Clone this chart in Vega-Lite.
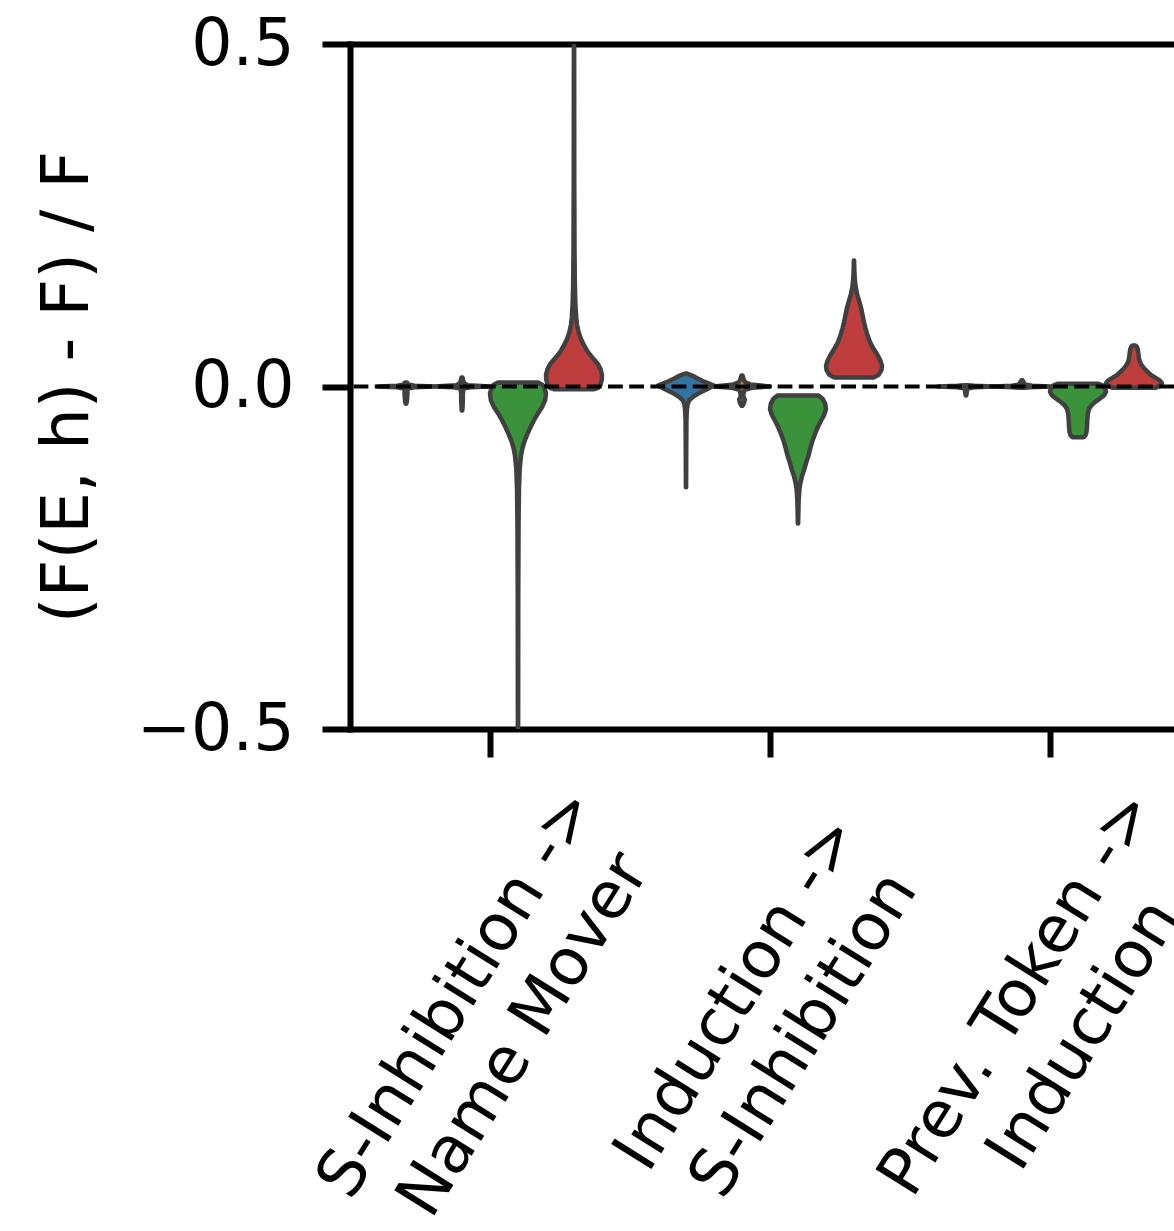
{
  "$schema": "https://vega.github.io/schema/vega-lite/v6.json",
  "width": 824,
  "height": 685,
  "autosize": {"type": "none"},
  "padding": {"left": 350, "top": 44, "right": 0, "bottom": 502},
  "background": "white",
  "config": {
    "view": {"stroke": null},
    "font": "DejaVu Sans",
    "axis": {"labelFont": "DejaVu Sans", "titleFont": "DejaVu Sans", "grid": false}
  },
  "data": {"values": [
    {"cat":"S-Inhibition -> Name Mover","hue":"H1","v":0.006,"d":0.03},
    {"cat":"S-Inhibition -> Name Mover","hue":"H1","v":0.003,"d":0.08},
    {"cat":"S-Inhibition -> Name Mover","hue":"H1","v":0.001,"d":0.3},
    {"cat":"S-Inhibition -> Name Mover","hue":"H1","v":0.0,"d":1.0},
    {"cat":"S-Inhibition -> Name Mover","hue":"H1","v":-0.001,"d":0.3},
    {"cat":"S-Inhibition -> Name Mover","hue":"H1","v":-0.003,"d":0.08},
    {"cat":"S-Inhibition -> Name Mover","hue":"H1","v":-0.006,"d":0.05},
    {"cat":"S-Inhibition -> Name Mover","hue":"H1","v":-0.012,"d":0.05},
    {"cat":"S-Inhibition -> Name Mover","hue":"H1","v":-0.018,"d":0.04},
    {"cat":"S-Inhibition -> Name Mover","hue":"H1","v":-0.022,"d":0.03},
    {"cat":"S-Inhibition -> Name Mover","hue":"H1","v":-0.025,"d":0.01},

    {"cat":"S-Inhibition -> Name Mover","hue":"H2","v":0.013,"d":0.02},
    {"cat":"S-Inhibition -> Name Mover","hue":"H2","v":0.009,"d":0.04},
    {"cat":"S-Inhibition -> Name Mover","hue":"H2","v":0.005,"d":0.08},
    {"cat":"S-Inhibition -> Name Mover","hue":"H2","v":0.002,"d":0.2},
    {"cat":"S-Inhibition -> Name Mover","hue":"H2","v":0.0,"d":1.0},
    {"cat":"S-Inhibition -> Name Mover","hue":"H2","v":-0.001,"d":0.3},
    {"cat":"S-Inhibition -> Name Mover","hue":"H2","v":-0.003,"d":0.06},
    {"cat":"S-Inhibition -> Name Mover","hue":"H2","v":-0.01,"d":0.03},
    {"cat":"S-Inhibition -> Name Mover","hue":"H2","v":-0.02,"d":0.03},
    {"cat":"S-Inhibition -> Name Mover","hue":"H2","v":-0.03,"d":0.02},
    {"cat":"S-Inhibition -> Name Mover","hue":"H2","v":-0.035,"d":0.01},

    {"cat":"S-Inhibition -> Name Mover","hue":"H3","v":0.006,"d":0.7},
    {"cat":"S-Inhibition -> Name Mover","hue":"H3","v":0.003,"d":0.85},
    {"cat":"S-Inhibition -> Name Mover","hue":"H3","v":0.0,"d":0.93},
    {"cat":"S-Inhibition -> Name Mover","hue":"H3","v":-0.01,"d":1.0},
    {"cat":"S-Inhibition -> Name Mover","hue":"H3","v":-0.02,"d":0.97},
    {"cat":"S-Inhibition -> Name Mover","hue":"H3","v":-0.03,"d":0.86},
    {"cat":"S-Inhibition -> Name Mover","hue":"H3","v":-0.04,"d":0.7},
    {"cat":"S-Inhibition -> Name Mover","hue":"H3","v":-0.05,"d":0.56},
    {"cat":"S-Inhibition -> Name Mover","hue":"H3","v":-0.06,"d":0.44},
    {"cat":"S-Inhibition -> Name Mover","hue":"H3","v":-0.07,"d":0.33},
    {"cat":"S-Inhibition -> Name Mover","hue":"H3","v":-0.08,"d":0.23},
    {"cat":"S-Inhibition -> Name Mover","hue":"H3","v":-0.09,"d":0.16},
    {"cat":"S-Inhibition -> Name Mover","hue":"H3","v":-0.1,"d":0.11},
    {"cat":"S-Inhibition -> Name Mover","hue":"H3","v":-0.12,"d":0.06},
    {"cat":"S-Inhibition -> Name Mover","hue":"H3","v":-0.15,"d":0.035},
    {"cat":"S-Inhibition -> Name Mover","hue":"H3","v":-0.2,"d":0.02},
    {"cat":"S-Inhibition -> Name Mover","hue":"H3","v":-0.3,"d":0.01},
    {"cat":"S-Inhibition -> Name Mover","hue":"H3","v":-0.5,"d":0.005},

    {"cat":"S-Inhibition -> Name Mover","hue":"H4","v":-0.004,"d":0.72},
    {"cat":"S-Inhibition -> Name Mover","hue":"H4","v":-0.002,"d":0.86},
    {"cat":"S-Inhibition -> Name Mover","hue":"H4","v":0.002,"d":0.94},
    {"cat":"S-Inhibition -> Name Mover","hue":"H4","v":0.01,"d":0.99},
    {"cat":"S-Inhibition -> Name Mover","hue":"H4","v":0.017,"d":1.0},
    {"cat":"S-Inhibition -> Name Mover","hue":"H4","v":0.025,"d":0.95},
    {"cat":"S-Inhibition -> Name Mover","hue":"H4","v":0.033,"d":0.85},
    {"cat":"S-Inhibition -> Name Mover","hue":"H4","v":0.04,"d":0.7},
    {"cat":"S-Inhibition -> Name Mover","hue":"H4","v":0.05,"d":0.5},
    {"cat":"S-Inhibition -> Name Mover","hue":"H4","v":0.06,"d":0.36},
    {"cat":"S-Inhibition -> Name Mover","hue":"H4","v":0.07,"d":0.24},
    {"cat":"S-Inhibition -> Name Mover","hue":"H4","v":0.08,"d":0.16},
    {"cat":"S-Inhibition -> Name Mover","hue":"H4","v":0.09,"d":0.11},
    {"cat":"S-Inhibition -> Name Mover","hue":"H4","v":0.1,"d":0.08},
    {"cat":"S-Inhibition -> Name Mover","hue":"H4","v":0.12,"d":0.05},
    {"cat":"S-Inhibition -> Name Mover","hue":"H4","v":0.15,"d":0.03},
    {"cat":"S-Inhibition -> Name Mover","hue":"H4","v":0.2,"d":0.018},
    {"cat":"S-Inhibition -> Name Mover","hue":"H4","v":0.3,"d":0.01},
    {"cat":"S-Inhibition -> Name Mover","hue":"H4","v":0.5,"d":0.005},

    {"cat":"Induction -> S-Inhibition","hue":"H1","v":0.019,"d":0.03},
    {"cat":"Induction -> S-Inhibition","hue":"H1","v":0.016,"d":0.22},
    {"cat":"Induction -> S-Inhibition","hue":"H1","v":0.012,"d":0.4},
    {"cat":"Induction -> S-Inhibition","hue":"H1","v":0.008,"d":0.6},
    {"cat":"Induction -> S-Inhibition","hue":"H1","v":0.004,"d":0.85},
    {"cat":"Induction -> S-Inhibition","hue":"H1","v":0.0015,"d":1.0},
    {"cat":"Induction -> S-Inhibition","hue":"H1","v":-0.004,"d":0.75},
    {"cat":"Induction -> S-Inhibition","hue":"H1","v":-0.01,"d":0.45},
    {"cat":"Induction -> S-Inhibition","hue":"H1","v":-0.015,"d":0.25},
    {"cat":"Induction -> S-Inhibition","hue":"H1","v":-0.02,"d":0.12},
    {"cat":"Induction -> S-Inhibition","hue":"H1","v":-0.025,"d":0.06},
    {"cat":"Induction -> S-Inhibition","hue":"H1","v":-0.035,"d":0.03},
    {"cat":"Induction -> S-Inhibition","hue":"H1","v":-0.05,"d":0.015},
    {"cat":"Induction -> S-Inhibition","hue":"H1","v":-0.1,"d":0.008},
    {"cat":"Induction -> S-Inhibition","hue":"H1","v":-0.147,"d":0.004},

    {"cat":"Induction -> S-Inhibition","hue":"H2","v":0.016,"d":0.02},
    {"cat":"Induction -> S-Inhibition","hue":"H2","v":0.01,"d":0.06},
    {"cat":"Induction -> S-Inhibition","hue":"H2","v":0.006,"d":0.12},
    {"cat":"Induction -> S-Inhibition","hue":"H2","v":0.003,"d":0.3},
    {"cat":"Induction -> S-Inhibition","hue":"H2","v":0.0,"d":1.0},
    {"cat":"Induction -> S-Inhibition","hue":"H2","v":-0.002,"d":0.35},
    {"cat":"Induction -> S-Inhibition","hue":"H2","v":-0.005,"d":0.1},
    {"cat":"Induction -> S-Inhibition","hue":"H2","v":-0.01,"d":0.05},
    {"cat":"Induction -> S-Inhibition","hue":"H2","v":-0.015,"d":0.05},
    {"cat":"Induction -> S-Inhibition","hue":"H2","v":-0.019,"d":0.1},
    {"cat":"Induction -> S-Inhibition","hue":"H2","v":-0.023,"d":0.08},
    {"cat":"Induction -> S-Inhibition","hue":"H2","v":-0.028,"d":0.02},

    {"cat":"Induction -> S-Inhibition","hue":"H3","v":-0.013,"d":0.72},
    {"cat":"Induction -> S-Inhibition","hue":"H3","v":-0.018,"d":0.88},
    {"cat":"Induction -> S-Inhibition","hue":"H3","v":-0.025,"d":0.97},
    {"cat":"Induction -> S-Inhibition","hue":"H3","v":-0.033,"d":1.0},
    {"cat":"Induction -> S-Inhibition","hue":"H3","v":-0.042,"d":0.93},
    {"cat":"Induction -> S-Inhibition","hue":"H3","v":-0.05,"d":0.82},
    {"cat":"Induction -> S-Inhibition","hue":"H3","v":-0.06,"d":0.7},
    {"cat":"Induction -> S-Inhibition","hue":"H3","v":-0.07,"d":0.6},
    {"cat":"Induction -> S-Inhibition","hue":"H3","v":-0.08,"d":0.51},
    {"cat":"Induction -> S-Inhibition","hue":"H3","v":-0.09,"d":0.44},
    {"cat":"Induction -> S-Inhibition","hue":"H3","v":-0.1,"d":0.38},
    {"cat":"Induction -> S-Inhibition","hue":"H3","v":-0.11,"d":0.3},
    {"cat":"Induction -> S-Inhibition","hue":"H3","v":-0.12,"d":0.23},
    {"cat":"Induction -> S-Inhibition","hue":"H3","v":-0.13,"d":0.15},
    {"cat":"Induction -> S-Inhibition","hue":"H3","v":-0.14,"d":0.09},
    {"cat":"Induction -> S-Inhibition","hue":"H3","v":-0.15,"d":0.05},
    {"cat":"Induction -> S-Inhibition","hue":"H3","v":-0.165,"d":0.025},
    {"cat":"Induction -> S-Inhibition","hue":"H3","v":-0.18,"d":0.015},
    {"cat":"Induction -> S-Inhibition","hue":"H3","v":-0.2,"d":0.006},

    {"cat":"Induction -> S-Inhibition","hue":"H4","v":0.013,"d":0.7},
    {"cat":"Induction -> S-Inhibition","hue":"H4","v":0.017,"d":0.88},
    {"cat":"Induction -> S-Inhibition","hue":"H4","v":0.024,"d":0.98},
    {"cat":"Induction -> S-Inhibition","hue":"H4","v":0.03,"d":1.0},
    {"cat":"Induction -> S-Inhibition","hue":"H4","v":0.038,"d":0.94},
    {"cat":"Induction -> S-Inhibition","hue":"H4","v":0.046,"d":0.84},
    {"cat":"Induction -> S-Inhibition","hue":"H4","v":0.055,"d":0.7},
    {"cat":"Induction -> S-Inhibition","hue":"H4","v":0.065,"d":0.57},
    {"cat":"Induction -> S-Inhibition","hue":"H4","v":0.075,"d":0.48},
    {"cat":"Induction -> S-Inhibition","hue":"H4","v":0.085,"d":0.41},
    {"cat":"Induction -> S-Inhibition","hue":"H4","v":0.095,"d":0.35},
    {"cat":"Induction -> S-Inhibition","hue":"H4","v":0.105,"d":0.3},
    {"cat":"Induction -> S-Inhibition","hue":"H4","v":0.115,"d":0.25},
    {"cat":"Induction -> S-Inhibition","hue":"H4","v":0.125,"d":0.18},
    {"cat":"Induction -> S-Inhibition","hue":"H4","v":0.135,"d":0.11},
    {"cat":"Induction -> S-Inhibition","hue":"H4","v":0.145,"d":0.06},
    {"cat":"Induction -> S-Inhibition","hue":"H4","v":0.155,"d":0.03},
    {"cat":"Induction -> S-Inhibition","hue":"H4","v":0.17,"d":0.012},
    {"cat":"Induction -> S-Inhibition","hue":"H4","v":0.184,"d":0.005},

    {"cat":"Prev. Token -> Induction","hue":"H1","v":0.002,"d":0.04},
    {"cat":"Prev. Token -> Induction","hue":"H1","v":0.001,"d":0.3},
    {"cat":"Prev. Token -> Induction","hue":"H1","v":0.0,"d":1.0},
    {"cat":"Prev. Token -> Induction","hue":"H1","v":-0.001,"d":0.3},
    {"cat":"Prev. Token -> Induction","hue":"H1","v":-0.003,"d":0.05},
    {"cat":"Prev. Token -> Induction","hue":"H1","v":-0.008,"d":0.03},
    {"cat":"Prev. Token -> Induction","hue":"H1","v":-0.013,"d":0.01},

    {"cat":"Prev. Token -> Induction","hue":"H2","v":0.009,"d":0.02},
    {"cat":"Prev. Token -> Induction","hue":"H2","v":0.006,"d":0.06},
    {"cat":"Prev. Token -> Induction","hue":"H2","v":0.003,"d":0.1},
    {"cat":"Prev. Token -> Induction","hue":"H2","v":0.001,"d":0.35},
    {"cat":"Prev. Token -> Induction","hue":"H2","v":0.0,"d":1.0},
    {"cat":"Prev. Token -> Induction","hue":"H2","v":-0.001,"d":0.3},
    {"cat":"Prev. Token -> Induction","hue":"H2","v":-0.002,"d":0.05},

    {"cat":"Prev. Token -> Induction","hue":"H3","v":0.004,"d":0.74},
    {"cat":"Prev. Token -> Induction","hue":"H3","v":0.001,"d":0.9},
    {"cat":"Prev. Token -> Induction","hue":"H3","v":-0.004,"d":0.98},
    {"cat":"Prev. Token -> Induction","hue":"H3","v":-0.008,"d":1.0},
    {"cat":"Prev. Token -> Induction","hue":"H3","v":-0.013,"d":0.93},
    {"cat":"Prev. Token -> Induction","hue":"H3","v":-0.018,"d":0.77},
    {"cat":"Prev. Token -> Induction","hue":"H3","v":-0.023,"d":0.6},
    {"cat":"Prev. Token -> Induction","hue":"H3","v":-0.028,"d":0.47},
    {"cat":"Prev. Token -> Induction","hue":"H3","v":-0.033,"d":0.39},
    {"cat":"Prev. Token -> Induction","hue":"H3","v":-0.04,"d":0.35},
    {"cat":"Prev. Token -> Induction","hue":"H3","v":-0.05,"d":0.33},
    {"cat":"Prev. Token -> Induction","hue":"H3","v":-0.06,"d":0.32},
    {"cat":"Prev. Token -> Induction","hue":"H3","v":-0.067,"d":0.3},
    {"cat":"Prev. Token -> Induction","hue":"H3","v":-0.071,"d":0.27},
    {"cat":"Prev. Token -> Induction","hue":"H3","v":-0.074,"d":0.2},

    {"cat":"Prev. Token -> Induction","hue":"H4","v":-0.002,"d":0.76},
    {"cat":"Prev. Token -> Induction","hue":"H4","v":0.001,"d":0.93},
    {"cat":"Prev. Token -> Induction","hue":"H4","v":0.005,"d":1.0},
    {"cat":"Prev. Token -> Induction","hue":"H4","v":0.009,"d":0.92},
    {"cat":"Prev. Token -> Induction","hue":"H4","v":0.013,"d":0.76},
    {"cat":"Prev. Token -> Induction","hue":"H4","v":0.017,"d":0.6},
    {"cat":"Prev. Token -> Induction","hue":"H4","v":0.022,"d":0.47},
    {"cat":"Prev. Token -> Induction","hue":"H4","v":0.027,"d":0.35},
    {"cat":"Prev. Token -> Induction","hue":"H4","v":0.032,"d":0.26},
    {"cat":"Prev. Token -> Induction","hue":"H4","v":0.037,"d":0.2},
    {"cat":"Prev. Token -> Induction","hue":"H4","v":0.043,"d":0.17},
    {"cat":"Prev. Token -> Induction","hue":"H4","v":0.05,"d":0.15},
    {"cat":"Prev. Token -> Induction","hue":"H4","v":0.055,"d":0.13},
    {"cat":"Prev. Token -> Induction","hue":"H4","v":0.058,"d":0.1},
    {"cat":"Prev. Token -> Induction","hue":"H4","v":0.06,"d":0.05}
  ]},
  "encoding": {
    "y": {
      "field": "v", "type": "quantitative",
      "scale": {"domain": [-0.5, 0.5], "nice": false, "zero": false},
      "axis": {
        "values": [-0.5, 0, 0.5], "format": ".1f",
        "title": "(F(E, h) - F) / F", "titleFontSize": 66, "titleFontWeight": "normal", "titleColor": "black", "titlePadding": 49,
        "labelFontSize": 65, "labelColor": "black", "labelPadding": 28, "labelFlush": false, "labelOverlap": false,
        "tickSize": 28, "tickWidth": 6, "tickColor": "black",
        "domainWidth": 6, "domainColor": "black", "domainCap": "square", "grid": false
      }
    }
  },
  "layer": [
    {"transform": [{"filter": {"and": [{"field": "cat", "equal": "S-Inhibition -> Name Mover"}, {"field": "hue", "equal": "H1"}]}}],
     "mark": {"type": "area", "orient": "horizontal", "stroke": "#404040", "strokeWidth": 4.5, "strokeJoin": "round", "clip": true},
     "encoding": {"x": {"field": "d", "type": "quantitative", "stack": "center", "impute": null, "scale": {"domain": [-0.5, 14.2142857], "nice": false, "zero": false},
       "axis": {"orient": "top", "ticks": false, "labels": false, "domain": true, "domainColor": "black", "domainWidth": 6, "domainCap": "square", "title": null, "grid": false}},
       "color": {"field": "hue", "type": "nominal", "scale": {"domain": ["H1", "H2", "H3", "H4"], "range": ["#3274a1", "#e1812c", "#3a923a", "#c03d3e"]}, "legend": null}}},
    {"transform": [{"filter": {"and": [{"field": "cat", "equal": "S-Inhibition -> Name Mover"}, {"field": "hue", "equal": "H2"}]}}],
     "mark": {"type": "area", "orient": "horizontal", "stroke": "#404040", "strokeWidth": 4.5, "strokeJoin": "round", "clip": true},
     "encoding": {"x": {"field": "d", "type": "quantitative", "stack": "center", "impute": null, "scale": {"domain": [-1.5, 13.2142857], "nice": false, "zero": false}, "axis": null},
       "color": {"field": "hue", "type": "nominal", "legend": null}}},
    {"transform": [{"filter": {"and": [{"field": "cat", "equal": "S-Inhibition -> Name Mover"}, {"field": "hue", "equal": "H3"}]}}],
     "mark": {"type": "area", "orient": "horizontal", "stroke": "#404040", "strokeWidth": 4.5, "strokeJoin": "round", "clip": true},
     "encoding": {"x": {"field": "d", "type": "quantitative", "stack": "center", "impute": null, "scale": {"domain": [-2.5, 12.2142857], "nice": false, "zero": false}, "axis": null},
       "color": {"field": "hue", "type": "nominal", "legend": null}}},
    {"transform": [{"filter": {"and": [{"field": "cat", "equal": "S-Inhibition -> Name Mover"}, {"field": "hue", "equal": "H4"}]}}],
     "mark": {"type": "area", "orient": "horizontal", "stroke": "#404040", "strokeWidth": 4.5, "strokeJoin": "round", "clip": true},
     "encoding": {"x": {"field": "d", "type": "quantitative", "stack": "center", "impute": null, "scale": {"domain": [-3.5, 11.2142857], "nice": false, "zero": false}, "axis": null},
       "color": {"field": "hue", "type": "nominal", "legend": null}}},
    {"transform": [{"filter": {"and": [{"field": "cat", "equal": "Induction -> S-Inhibition"}, {"field": "hue", "equal": "H1"}]}}],
     "mark": {"type": "area", "orient": "horizontal", "stroke": "#404040", "strokeWidth": 4.5, "strokeJoin": "round", "clip": true},
     "encoding": {"x": {"field": "d", "type": "quantitative", "stack": "center", "impute": null, "scale": {"domain": [-5.5, 9.2142857], "nice": false, "zero": false}, "axis": null},
       "color": {"field": "hue", "type": "nominal", "legend": null}}},
    {"transform": [{"filter": {"and": [{"field": "cat", "equal": "Induction -> S-Inhibition"}, {"field": "hue", "equal": "H2"}]}}],
     "mark": {"type": "area", "orient": "horizontal", "stroke": "#404040", "strokeWidth": 4.5, "strokeJoin": "round", "clip": true},
     "encoding": {"x": {"field": "d", "type": "quantitative", "stack": "center", "impute": null, "scale": {"domain": [-6.5, 8.2142857], "nice": false, "zero": false}, "axis": null},
       "color": {"field": "hue", "type": "nominal", "legend": null}}},
    {"transform": [{"filter": {"and": [{"field": "cat", "equal": "Induction -> S-Inhibition"}, {"field": "hue", "equal": "H3"}]}}],
     "mark": {"type": "area", "orient": "horizontal", "stroke": "#404040", "strokeWidth": 4.5, "strokeJoin": "round", "clip": true},
     "encoding": {"x": {"field": "d", "type": "quantitative", "stack": "center", "impute": null, "scale": {"domain": [-7.5, 7.2142857], "nice": false, "zero": false}, "axis": null},
       "color": {"field": "hue", "type": "nominal", "legend": null}}},
    {"transform": [{"filter": {"and": [{"field": "cat", "equal": "Induction -> S-Inhibition"}, {"field": "hue", "equal": "H4"}]}}],
     "mark": {"type": "area", "orient": "horizontal", "stroke": "#404040", "strokeWidth": 4.5, "strokeJoin": "round", "clip": true},
     "encoding": {"x": {"field": "d", "type": "quantitative", "stack": "center", "impute": null, "scale": {"domain": [-8.5, 6.2142857], "nice": false, "zero": false}, "axis": null},
       "color": {"field": "hue", "type": "nominal", "legend": null}}},
    {"transform": [{"filter": {"and": [{"field": "cat", "equal": "Prev. Token -> Induction"}, {"field": "hue", "equal": "H1"}]}}],
     "mark": {"type": "area", "orient": "horizontal", "stroke": "#404040", "strokeWidth": 4.5, "strokeJoin": "round", "clip": true},
     "encoding": {"x": {"field": "d", "type": "quantitative", "stack": "center", "impute": null, "scale": {"domain": [-10.5, 4.2142857], "nice": false, "zero": false}, "axis": null},
       "color": {"field": "hue", "type": "nominal", "legend": null}}},
    {"transform": [{"filter": {"and": [{"field": "cat", "equal": "Prev. Token -> Induction"}, {"field": "hue", "equal": "H2"}]}}],
     "mark": {"type": "area", "orient": "horizontal", "stroke": "#404040", "strokeWidth": 4.5, "strokeJoin": "round", "clip": true},
     "encoding": {"x": {"field": "d", "type": "quantitative", "stack": "center", "impute": null, "scale": {"domain": [-11.5, 3.2142857], "nice": false, "zero": false}, "axis": null},
       "color": {"field": "hue", "type": "nominal", "legend": null}}},
    {"transform": [{"filter": {"and": [{"field": "cat", "equal": "Prev. Token -> Induction"}, {"field": "hue", "equal": "H3"}]}}],
     "mark": {"type": "area", "orient": "horizontal", "stroke": "#404040", "strokeWidth": 4.5, "strokeJoin": "round", "clip": true},
     "encoding": {"x": {"field": "d", "type": "quantitative", "stack": "center", "impute": null, "scale": {"domain": [-12.5, 2.2142857], "nice": false, "zero": false}, "axis": null},
       "color": {"field": "hue", "type": "nominal", "legend": null}}},
    {"transform": [{"filter": {"and": [{"field": "cat", "equal": "Prev. Token -> Induction"}, {"field": "hue", "equal": "H4"}]}}],
     "mark": {"type": "area", "orient": "horizontal", "stroke": "#404040", "strokeWidth": 4.5, "strokeJoin": "round", "clip": true},
     "encoding": {"x": {"field": "d", "type": "quantitative", "stack": "center", "impute": null, "scale": {"domain": [-13.5, 1.2142857], "nice": false, "zero": false}, "axis": null},
       "color": {"field": "hue", "type": "nominal", "legend": null}}},
    {"mark": {"type": "point", "opacity": 0},
     "encoding": {"x": {"field": "cat", "type": "nominal", "sort": null,
       "scale": {"type": "point", "domain": ["S-Inhibition -> Name Mover", "Induction -> S-Inhibition", "Prev. Token -> Induction"], "padding": 0.4714286, "align": 0.530303},
       "axis": {"orient": "bottom", "title": null, "labelAngle": -58, "labelAlign": "center", "labelBaseline": "middle", "labelPadding": 236, "labelOffset": -33,
         "labelExpr": "[split(datum.label, ' -> ')[0] + ' ->', split(datum.label, ' -> ')[1]]",
         "labelLineHeight": 78, "labelFontSize": 65, "labelColor": "black", "labelLimit": 0, "labelOverlap": false, "labelBound": false, "labelFlush": false,
         "tickSize": 28, "tickWidth": 6, "tickColor": "black", "domainWidth": 6, "domainColor": "black", "domainCap": "square", "grid": false}}}},
    {"data": {"values": [{"ref": 0}]},
     "mark": {"type": "rule", "strokeDash": [14.8, 6.4], "strokeWidth": 4, "color": "black"},
     "encoding": {"y": {"field": "ref", "type": "quantitative",
       "axis": {
        "values": [-0.5, 0, 0.5], "format": ".1f",
        "title": "(F(E, h) - F) / F", "titleFontSize": 66, "titleFontWeight": "normal", "titleColor": "black", "titlePadding": 49,
        "labelFontSize": 65, "labelColor": "black", "labelPadding": 28, "labelFlush": false, "labelOverlap": false,
        "tickSize": 28, "tickWidth": 6, "tickColor": "black",
        "domainWidth": 6, "domainColor": "black", "domainCap": "square", "grid": false
      }}}}
  ],
  "resolve": {"scale": {"x": "independent"}, "axis": {"x": "independent"}}
}
